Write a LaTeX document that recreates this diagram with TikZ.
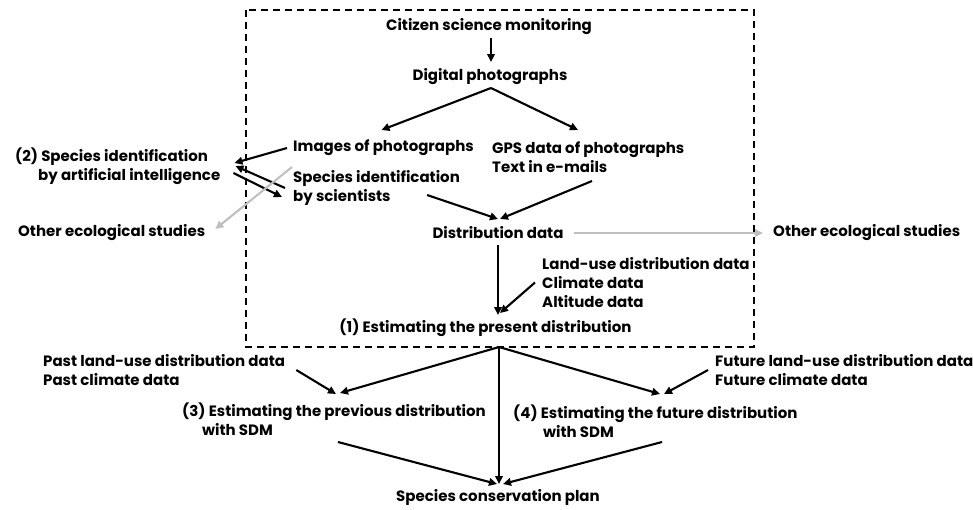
\documentclass[tikz,border=0pt]{standalone}
\usepackage{fontspec}
\setmainfont{Poppins}
\usetikzlibrary{arrows.meta,calc}
\begin{document}
\begin{tikzpicture}[x=1pt,y=-1pt,
  lbl/.style={inner sep=0pt, font=\fontsize{15}{19}\selectfont\bfseries, align=left},
  arr/.style={line width=2.1pt, -{Triangle[length=8pt,width=7.5pt]}},
  garr/.style={arr, draw=black!25, fill=black!25},
  frame/.style={line width=1.4pt, dash pattern=on 7pt off 5pt}]
\useasboundingbox (0,0) rectangle (973,509);
\draw[frame] (246,10) rectangle (754,347);
% nodes
\node[lbl] (csm) at (489,27) {Citizen science monitoring};
\node[lbl] (dp) at (490,77) {Digital photographs};
\node[lbl,anchor=west] (img) at (293,148) {Images of photographs};
\node[lbl,anchor=west] (gps) at (492,157.5) {GPS data of photographs\\Text in e-mails};
\node[lbl,anchor=west] (ai) at (15,166) {(2) Species identification\\\hspace*{23pt}by artificial intelligence};
\node[lbl,anchor=west] (sci) at (293,187.5) {Species identification\\by scientists};
\node[lbl,anchor=west] (oesL) at (18,233) {Other ecological studies};
\node[lbl] (dist) at (498,233) {Distribution data};
\node[lbl,anchor=west] (oesR) at (773,233) {Other ecological studies};
\node[lbl,anchor=west] (env) at (542,282.5) {Land-use distribution data\\Climate data\\Altitude data};
\node[lbl] (est1) at (485.5,328) {(1) Estimating the present distribution};
\node[lbl,anchor=west] (past) at (43,370.5) {Past land-use distribution data\\Past climate data};
\node[lbl,anchor=west] (fut) at (715,370.5) {Future land-use distribution data\\Future climate data};
\node[lbl,anchor=west] (est3) at (182,419) {(3) Estimating the previous distribution\\\hspace*{20pt}with SDM};
\node[lbl,anchor=west] (est4) at (513,421) {(4) Estimating the future distribution\\\hspace*{30pt}with SDM};
\node[lbl] (plan) at (498,497) {Species conservation plan};
% connectors
\draw[arr] ($(csm.center)+(2,11)$) -- ($(dp.center)+(1,-15)$);
\draw[arr] ($(dp.center)+(1,11)$) -- ($(img.center)+(-2,-18)$);
\draw[arr] ($(dp.center)+(1,11)$) -- ($(gps.west)+(86,-27.5)$);
\draw[arr] ($(img.west)+(-6,0)$) -- ($(ai.east)+(14,-3)$);
\draw[arr] ($(sci.west)+(-8,0.5)$) -- ($(ai.east)+(15,0)$);
\draw[arr] ($(ai.east)+(13,7)$) -- ($(sci.west)+(-11,9.5)$);
\draw[garr] ($(img.west)+(-1,19)$) -- ($(oesL.east)+(10,-4)$);
\draw[arr] ($(sci.east)+(-33,7.5)$) -- ($(dist.center)+(0,-14)$);
\draw[arr] ($(gps.west)+(100,23.5)$) -- ($(dist.center)+(2,-14)$);
\draw[garr] ($(dist.east)+(10,0)$) -- ($(oesR.west)+(-10,0)$);
\draw[arr] ($(dist.center)+(0,12)$) -- ($(est1.center)+(12.5,-13)$);
\draw[arr] ($(env.west)+(-7,0)$) -- ($(est1.center)+(14.5,-15)$);
\draw[arr] ($(est1.center)+(13.5,19)$) -- ($(est3.west)+(158,-26)$);
\draw[arr] ($(past.east)+(11,-0.5)$) -- ($(est3.west)+(154,-25)$);
\draw[arr] ($(est1.center)+(13.5,19)$) -- ($(est4.west)+(147,-27)$);
\draw[arr] ($(fut.west)+(-7,-0.5)$) -- ($(est4.west)+(151,-27)$);
\draw[arr] ($(est1.center)+(13.5,19)$) -- ($(plan.center)+(1,-13)$);
\draw[arr] ($(est3.west)+(156,23)$) -- ($(plan.center)+(-1,-13)$);
\draw[arr] ($(est4.west)+(149,21)$) -- ($(plan.center)+(5,-13)$);
\end{tikzpicture}
\end{document}
